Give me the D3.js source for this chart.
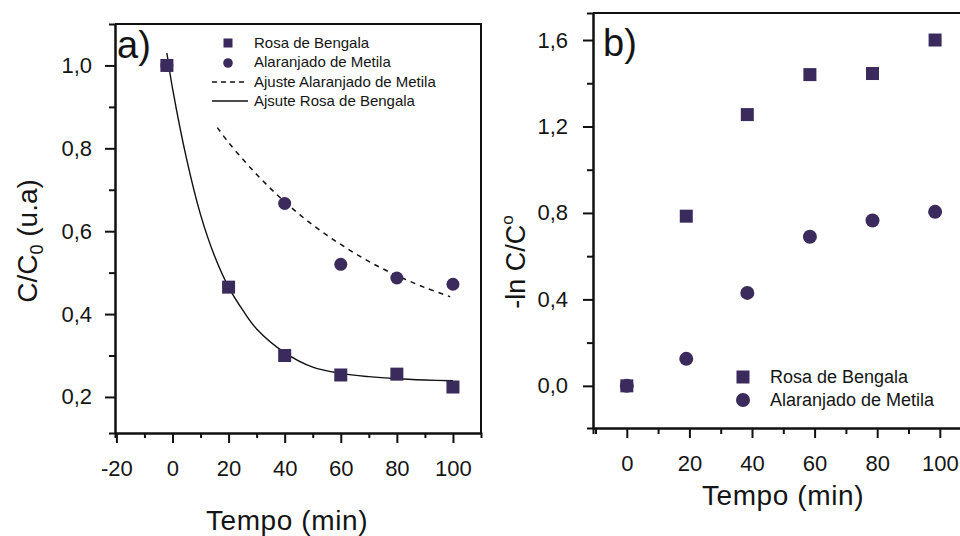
<!DOCTYPE html>
<html>
<head>
<meta charset="utf-8">
<script src="https://cdn.jsdelivr.net/npm/d3@7"></script>
<style>
  body { margin: 0; background: #fff; }
  svg { display: block; }
  text { font-family: "Liberation Sans", Arial, sans-serif; fill: #151515; }
</style>
</head>
<body>
<svg id="chart" width="960" height="536"></svg>
<script>
// ---- panel a: C/C0 vs time ----
const timeA = [-2, 20, 40, 60, 80, 100];
const rosaA = [1.0, 0.465, 0.30, 0.253, 0.255, 0.224];
const timeAlaA = [-2, 40, 60, 80, 100];
const alaA = [1.0, 0.667, 0.52, 0.487, 0.472];
// fitted curves
const fitRosaT = [-2, 0, 5, 10, 15, 20, 25, 30, 40, 50, 60, 70, 80, 90, 100];
const fitRosaY = [1.03, 0.945, 0.775, 0.64, 0.54, 0.465, 0.41, 0.364, 0.307, 0.272, 0.257, 0.249, 0.244, 0.241, 0.239];
const fitAlaT = [16, 20, 30, 40, 50, 60, 70, 80, 90, 99];
const fitAlaY = [0.85, 0.814, 0.737, 0.671, 0.615, 0.568, 0.527, 0.493, 0.464, 0.442];

const xTicksA = [-20, 0, 20, 40, 60, 80, 100];
const yTicksA = [0.2, 0.4, 0.6, 0.8, 1.0];

// ---- panel b: -ln C/C0 vs time ----
const timeB = [0, 19, 38.5, 58.5, 78.5, 98.5];
const rosaB = [0.0, 0.785, 1.255, 1.44, 1.445, 1.6];
const alaB = [0.0, 0.125, 0.43, 0.69, 0.765, 0.805];

const xTicksB = [0, 20, 40, 60, 80, 100];
const yTicksB = [0.0, 0.4, 0.8, 1.2, 1.6];

const markColor = "#3a2b5c";
const fmt = d => d3.format(".1f")(d).replace(".", ",");
const fmtInt = d => String(d);

const svg = d3.select("#chart");
svg.append("rect").attr("width", 960).attr("height", 536).attr("fill", "#fff");

function styleAxis(g) {
    g.select(".domain").attr("stroke", "#111").attr("stroke-width", 2);
    g.selectAll(".tick line").attr("stroke", "#111").attr("stroke-width", 2);
    g.selectAll(".tick text").attr("font-size", 22).attr("fill", "#151515")
        .attr("font-family", "Liberation Sans, Arial, sans-serif");
}

// ===== panel a =====
const xA = d3.scaleLinear().domain([-20.5, 110]).range([115, 481]);
const yA = d3.scaleLinear().domain([0.113, 1.1]).range([433, 24]);

const gA = svg.append("g");

// frame top / right
gA.append("path")
    .attr("d", `M${xA.range()[0]},${yA.range()[1]} H${xA.range()[1]} V${yA.range()[0]}`)
    .attr("fill", "none").attr("stroke", "#111").attr("stroke-width", 2);

gA.append("g").attr("transform", `translate(0,${yA.range()[0]})`)
    .call(d3.axisBottom(xA).tickValues(d3.range(-10, 101, 20)).tickSize(5).tickFormat(""))
    .call(styleAxis);
gA.append("g").attr("transform", `translate(0,${yA.range()[0]})`)
    .call(d3.axisBottom(xA).tickValues(xTicksA).tickSize(10).tickPadding(17).tickSizeOuter(0).tickFormat(fmtInt))
    .call(styleAxis);
gA.append("g").attr("transform", `translate(${xA.range()[0]},0)`)
    .call(d3.axisLeft(yA).tickValues([0.3, 0.5, 0.7, 0.9]).tickSize(6).tickFormat(""))
    .call(styleAxis);
gA.append("g").attr("transform", `translate(${xA.range()[0]},0)`)
    .call(d3.axisLeft(yA).tickValues(yTicksA).tickSize(10).tickPadding(13).tickSizeOuter(0).tickFormat(fmt))
    .call(styleAxis);

const lineA = d3.line().x(d => xA(d[0])).y(d => yA(d[1])).curve(d3.curveCatmullRom);
gA.append("path")
    .datum(fitRosaT.map((t, i) => [t, fitRosaY[i]]))
    .attr("d", lineA).attr("fill", "none").attr("stroke", "#111").attr("stroke-width", 1.4);
gA.append("path")
    .datum(fitAlaT.map((t, i) => [t, fitAlaY[i]]))
    .attr("d", lineA).attr("fill", "none").attr("stroke", "#111").attr("stroke-width", 1.5)
    .attr("stroke-dasharray", "5,5");

gA.selectAll("circle.ala").data(timeAlaA.map((t, i) => [t, alaA[i]])).enter()
    .append("circle").attr("class", "ala")
    .attr("cx", d => xA(d[0])).attr("cy", d => yA(d[1])).attr("r", 6.5)
    .attr("fill", markColor);
gA.selectAll("rect.rosa").data(timeA.map((t, i) => [t, rosaA[i]])).enter()
    .append("rect").attr("class", "rosa")
    .attr("x", d => xA(d[0]) - 6.5).attr("y", d => yA(d[1]) - 6.5)
    .attr("width", 13).attr("height", 13)
    .attr("fill", markColor);

// legend a
const legA = gA.append("g").attr("font-size", 15);
legA.append("rect").attr("x", 223.5).attr("y", 38.5).attr("width", 9).attr("height", 9).attr("fill", markColor);
legA.append("circle").attr("cx", 228).attr("cy", 63).attr("r", 4.8).attr("fill", markColor);
legA.append("line").attr("x1", 212).attr("x2", 248).attr("y1", 82).attr("y2", 82)
    .attr("stroke", "#111").attr("stroke-width", 1.4).attr("stroke-dasharray", "5,4");
legA.append("line").attr("x1", 212).attr("x2", 248).attr("y1", 101).attr("y2", 101)
    .attr("stroke", "#111").attr("stroke-width", 1.4);
["Rosa de Bengala", "Alaranjado de Metila", "Ajuste Alaranjado de Metila", "Ajsute Rosa de Bengala"]
    .forEach((s, i) => {
        legA.append("text").attr("x", 254).attr("y", 48 + i * 19.3).text(s);
    });

gA.append("text").attr("x", 117).attr("y", 58).attr("font-size", 38).text("a)");

gA.append("text").attr("x", 287).attr("y", 530).attr("text-anchor", "middle")
    .attr("font-size", 28).attr("letter-spacing", 0.6).text("Tempo (min)");

const yTitleA = gA.append("text").attr("transform", "translate(37,241) rotate(-90)")
    .attr("text-anchor", "middle").attr("font-size", 28);
yTitleA.append("tspan").text("C/C");
yTitleA.append("tspan").attr("font-size", 18).attr("dy", 6).text("0");
yTitleA.append("tspan").attr("dy", -6).text(" (u.a)");

// ===== panel b =====
const xB = d3.scaleLinear().domain([-10.8, 120]).range([593, 1002.4]);
const yB = d3.scaleLinear().domain([-0.195, 1.725]).range([428, 13]);

const gB = svg.append("g");

gB.append("path")
    .attr("d", `M${xB.range()[0]},${yB.range()[1]} H${xB.range()[1]} V${yB.range()[0]}`)
    .attr("fill", "none").attr("stroke", "#111").attr("stroke-width", 2);

gB.append("g").attr("transform", `translate(0,${yB.range()[0]})`)
    .call(d3.axisBottom(xB).tickValues(d3.range(-10, 111, 20)).tickSize(6).tickFormat(""))
    .call(styleAxis);
gB.append("g").attr("transform", `translate(0,${yB.range()[0]})`)
    .call(d3.axisBottom(xB).tickValues(xTicksB).tickSize(10).tickPadding(17).tickSizeOuter(0).tickFormat(fmtInt))
    .call(styleAxis);
gB.append("g").attr("transform", `translate(${xB.range()[0]},0)`)
    .call(d3.axisLeft(yB).tickValues([0.2, 0.6, 1.0, 1.4]).tickSize(6).tickFormat(""))
    .call(styleAxis);
gB.append("g").attr("transform", `translate(${xB.range()[0]},0)`)
    .call(d3.axisLeft(yB).tickValues(yTicksB).tickSize(10).tickPadding(15).tickSizeOuter(0).tickFormat(fmt))
    .call(styleAxis);

gB.selectAll("circle.ala").data(timeB.map((t, i) => [t, alaB[i]])).enter()
    .append("circle").attr("class", "ala")
    .attr("cx", d => xB(d[0])).attr("cy", d => yB(d[1])).attr("r", 7)
    .attr("fill", markColor);
gB.selectAll("rect.rosa").data(timeB.map((t, i) => [t, rosaB[i]])).enter()
    .append("rect").attr("class", "rosa")
    .attr("x", d => xB(d[0]) - 6.5).attr("y", d => yB(d[1]) - 6.5)
    .attr("width", 13).attr("height", 13)
    .attr("fill", markColor);

// legend b
const legB = gB.append("g").attr("font-size", 18);
legB.append("rect").attr("x", 736.5).attr("y", 370.5).attr("width", 13).attr("height", 13).attr("fill", markColor);
legB.append("circle").attr("cx", 743).attr("cy", 400).attr("r", 7).attr("fill", markColor);
legB.append("text").attr("x", 770).attr("y", 383).text("Rosa de Bengala");
legB.append("text").attr("x", 770).attr("y", 406).text("Alaranjado de Metila");

gB.append("text").attr("x", 603).attr("y", 56).attr("font-size", 38).text("b)");

gB.append("text").attr("x", 783).attr("y", 505).attr("text-anchor", "middle")
    .attr("font-size", 28).attr("letter-spacing", 0.6).text("Tempo (min)");

const yTitleB = gB.append("text").attr("transform", "translate(525,262) rotate(-90)")
    .attr("text-anchor", "middle").attr("font-size", 27);
yTitleB.append("tspan").text("-ln C/C");
yTitleB.append("tspan").attr("font-size", 17).attr("dy", -12).text("o");
</script>
</body>
</html>
